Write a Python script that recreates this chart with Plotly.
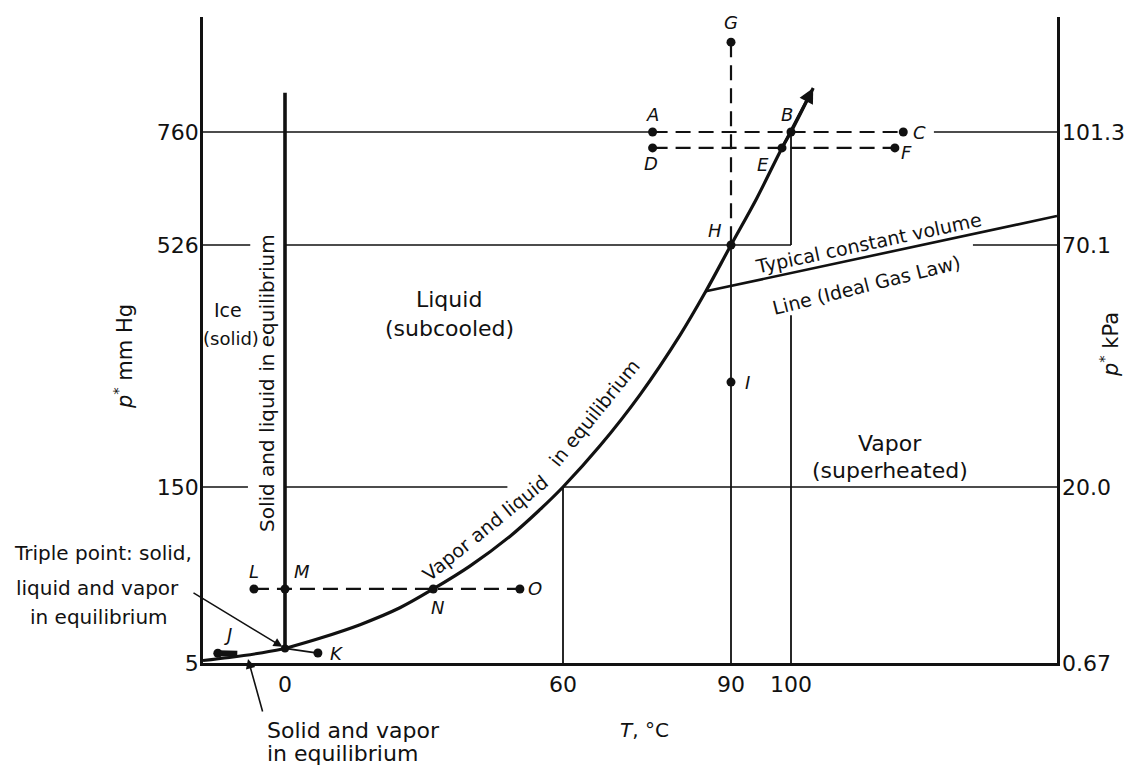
import numpy as np
import plotly.graph_objects as go

# ---------------- data ----------------
T_TICKS = [0, 60, 90, 100]                       # °C
P_TICKS_MMHG = [5, 150, 526, 760]                # mm Hg
P_TICKS_KPA = ["0.67", "20.0", "70.1", "101.3"]  # kPa at the same heights
T_AXIS = [-17.7, 144.3]                          # ends of the temperature axis
P_AXIS = [5, 998]                                # ends of the pressure axis

# vapor-liquid equilibrium curve (ends in an arrow)
VL_T = [0, 7.5, 16.2, 24.8, 32, 39.9, 48.6, 55, 60, 66.6, 73.8, 80.9, 85.5, 90, 94.3, 98.5, 100, 103.7]
VL_P = [17, 25.4, 36.6, 50.5, 66, 84.8, 109.5, 131.3, 150, 214, 294, 386, 454, 526, 623, 727, 760, 851]
# solid-vapor equilibrium curve
SV_T = [-17.7, -12, -6, 0]
SV_P = [7, 9.5, 12.8, 17]
# solid-liquid equilibrium line
MELT_T = [0, 0]
MELT_P = [17, 841]
# typical constant volume line
CV_T = [85.5, 144.3]
CV_P = [454, 586]

TRIPLE_T = 0
TRIPLE_P = 17

POINT_NAMES = ["A", "B", "C", "D", "E", "F", "G", "H", "I", "J", "K", "L", "M", "N", "O"]
POINT_T = [76, 100, 118.7, 76, 98.5, 117.3, 90, 90, 90, -14.5, 7.1, -6.7, 0, 32, 50.7]
POINT_P = [760, 760, 760, 727, 727, 727, 946, 526, 313, 13, 13.2, 66, 66, 66, 66]
J_BLOB_T = [-14.5, -10.3]
J_BLOB_P = [13, 12.6]

# dashed process paths (pairs of point names)
DASHED_PATHS = [("A", "C"), ("D", "F"), ("G", "H"), ("L", "O")]

# reference lines (solid, thin): pressure level -> temperature segments
H_LINES = {
    150: [(T_AXIS[0], -8), (0, 48), (60, T_AXIS[1])],
    526: [(T_AXIS[0], -7.5), (0, 100), (130.3, T_AXIS[1])],
    760: [(T_AXIS[0], 76), (123.8, T_AXIS[1])],
}
# temperature level -> pressure segments
V_LINES = {
    60: [(5, 150)],
    90: [(5, 526)],
    100: [(5, 417), (526, 760)],
}

# ---------------- schematic (not to scale) axes ----------------
X_ANCHOR = [0, 82, 360, 528, 588, 854]
Y_ANCHOR = [0, 176, 418, 531, 646]
T_ANCHOR = [T_AXIS[0]] + T_TICKS + [T_AXIS[1]]
P_ANCHOR = P_TICKS_MMHG + [P_AXIS[1]]


def sx(t):
    return np.interp(np.asarray(t, dtype=float), T_ANCHOR, X_ANCHOR)


def sy(p):
    return np.interp(np.asarray(p, dtype=float), P_ANCHOR, Y_ANCHOR)


def segs_xy(segs):
    xs, ys = [], []
    for T, P in segs:
        xs += list(sx(T)) + [None]
        ys += list(sy(P)) + [None]
    return xs, ys


FONT = "DejaVu Sans"
BLACK = "#111111"
fig = go.Figure()

# thin reference lines
hsegs = []
for p, tl in H_LINES.items():
    for a, b in tl:
        hsegs.append(([a, b], [p, p]))
x, y = segs_xy(hsegs)
fig.add_trace(go.Scatter(x=x, y=y, mode="lines", line=dict(color=BLACK, width=1.4),
                         hoverinfo="skip", showlegend=False))
vsegs = []
for t, pl in V_LINES.items():
    for a, b in pl:
        vsegs.append(([t, t], [a, b]))
x, y = segs_xy(vsegs)
fig.add_trace(go.Scatter(x=x, y=y, mode="lines", line=dict(color=BLACK, width=1.8),
                         hoverinfo="skip", showlegend=False))

# dashed paths
idx = {n: i for i, n in enumerate(POINT_NAMES)}
dsegs = []
for a, b in DASHED_PATHS:
    dsegs.append(([POINT_T[idx[a]], POINT_T[idx[b]]], [POINT_P[idx[a]], POINT_P[idx[b]]]))
x, y = segs_xy(dsegs)
fig.add_trace(go.Scatter(x=x, y=y, mode="lines",
                         line=dict(color=BLACK, width=2.2, dash="15px,8px"),
                         hoverinfo="skip", showlegend=False))

# equilibrium curves
fig.add_trace(go.Scatter(x=sx(VL_T), y=sy(VL_P), mode="lines", line=dict(color=BLACK, width=3.2, shape="spline"),
                         hoverinfo="skip", showlegend=False))
fig.add_trace(go.Scatter(x=sx(SV_T), y=sy(SV_P), mode="lines", line=dict(color=BLACK, width=3, shape="spline"),
                         hoverinfo="skip", showlegend=False))
fig.add_trace(go.Scatter(x=sx(MELT_T), y=sy(MELT_P), mode="lines", line=dict(color=BLACK, width=3.6),
                         hoverinfo="skip", showlegend=False))
fig.add_trace(go.Scatter(x=sx(CV_T), y=sy(CV_P), mode="lines", line=dict(color=BLACK, width=2.6),
                         hoverinfo="skip", showlegend=False))
# triple point -> K
fig.add_trace(go.Scatter(x=sx([TRIPLE_T, POINT_T[idx["K"]]]), y=sy([TRIPLE_P, POINT_P[idx["K"]]]),
                         mode="lines", line=dict(color=BLACK, width=1.8), hoverinfo="skip", showlegend=False))
# J blob
fig.add_trace(go.Scatter(x=sx(J_BLOB_T), y=sy(J_BLOB_P), mode="lines", line=dict(color=BLACK, width=6),
                         hoverinfo="skip", showlegend=False))

# points
fig.add_trace(go.Scatter(x=sx(POINT_T), y=sy(POINT_P), mode="markers",
                         marker=dict(color=BLACK, size=9), hoverinfo="skip", showlegend=False))
fig.add_trace(go.Scatter(x=sx([TRIPLE_T]), y=sy([TRIPLE_P]), mode="markers",
                         marker=dict(color=BLACK, size=8), hoverinfo="skip", showlegend=False))

# dummy trace for the right axis
fig.add_trace(go.Scatter(x=[None], y=[None], yaxis="y2", showlegend=False, hoverinfo="skip"))

ann = []
# point letters (shift in px from the point)
LABEL_SHIFT = {
    "A": (0, 18), "B": (-4, 18), "C": (16, 0), "D": (-2, -16), "E": (-19, -17),
    "F": (12, -5), "G": (0, 20), "H": (-16, 15), "I": (16, 0), "J": (10, 19),
    "K": (19, 0), "L": (0, 17), "M": (17, 17), "N": (4, -19), "O": (15, 0),
}
for n, t, p in zip(POINT_NAMES, POINT_T, POINT_P):
    dx, dy = LABEL_SHIFT[n]
    ann.append(dict(x=float(sx(t)), y=float(sy(p)), text=f"<i>{n}</i>", showarrow=False,
                    xshift=dx, yshift=dy, font=dict(size=18, family=FONT, color=BLACK)))

W, H = X_ANCHOR[-1], Y_ANCHOR[-1]


def label(x, y, text, size=20, angle=0, xanchor="center"):
    # x, y in drawing units (from the left axis / bottom axis); placed on paper
    ann.append(dict(x=x / W, y=y / H, xref="paper", yref="paper", text=text, showarrow=False,
                    textangle=angle, xanchor=xanchor, yanchor="middle",
                    font=dict(size=size, family=FONT, color=BLACK)))


# region labels (positions in drawing units)
label(25, 353, "Ice", 19)
label(28, 325, "(solid)", 18)
label(64, 280, "Solid and liquid in equilibrium", 20, -90)
label(246, 363, "Liquid", 22)
label(246, 335, "(subcooled)", 22)
label(687, 220, "Vapor", 22)
label(687, 193, "(superheated)", 22)
label(282, 135, "Vapor and liquid", 19, -39)
label(391, 250, "in equilibrium", 19, -51)
label(665, 420, "Typical constant volume", 19, -12)
label(663, 378, "Line (Ideal Gas Law)", 19, -14)
label(-100, 110, "Triple point: solid,", 20)
label(-106, 75, "liquid and vapor", 20)
label(-104, 46, "in equilibrium", 20)
label(62, -67, "Solid and vapor", 22, 0, "left")
label(62, -90, "in equilibrium", 22, 0, "left")
label(441, -67, "<i>T</i>, °C", 20)
label(-80, 306, "<i>p</i><sup>*</sup> mm Hg", 21, -90)
label(906, 318, "<i>p</i><sup>*</sup> kPa", 21, -90)

# arrows
ann.append(dict(x=float(sx(TRIPLE_T)), y=float(sy(TRIPLE_P)), ax=-11, ay=71, axref="x", ayref="y",
                text="", showarrow=True, arrowhead=2, arrowsize=1.2, arrowwidth=1.5,
                arrowcolor=BLACK, standoff=3))
ann.append(dict(x=45, y=4, ax=60, ay=-50, axref="x", ayref="y",
                text="", showarrow=True, arrowhead=2, arrowsize=1.2, arrowwidth=1.6,
                arrowcolor=BLACK))
ann.append(dict(x=float(sx(VL_T[-1])), y=float(sy(VL_P[-1])),
                ax=float(sx(VL_T[-3])), ay=float(sy(VL_P[-3])), axref="x", ayref="y",
                text="", showarrow=True, arrowhead=2, arrowsize=1.0, arrowwidth=3,
                arrowcolor=BLACK))

tickfont = dict(size=22, family=FONT, color=BLACK)
fig.update_layout(
    width=1137, height=767, autosize=False,
    margin=dict(l=203, r=80, t=17, b=104),
    paper_bgcolor="white", plot_bgcolor="white",
    annotations=ann,
    xaxis=dict(range=[0, W], showgrid=False, zeroline=False, showline=True,
               linecolor=BLACK, linewidth=2.5, ticks="", tickvals=list(sx(T_TICKS)),
               ticktext=[str(t) for t in T_TICKS], tickfont=tickfont, ticklabelstandoff=0),
    yaxis=dict(range=[0, H], showgrid=False, zeroline=False, showline=True,
               mirror=True, linecolor=BLACK, linewidth=2.5, ticks="",
               tickvals=list(sy(P_TICKS_MMHG)), ticktext=[str(p) for p in P_TICKS_MMHG],
               tickfont=tickfont, ticklabelstandoff=-3),
    yaxis2=dict(range=[0, H], overlaying="y", side="right", showgrid=False,
                zeroline=False, showline=False, ticks="", tickvals=list(sy(P_TICKS_MMHG)),
                ticktext=P_TICKS_KPA, tickfont=tickfont, ticklabelstandoff=4),
)

fig.write_html("out.html")
